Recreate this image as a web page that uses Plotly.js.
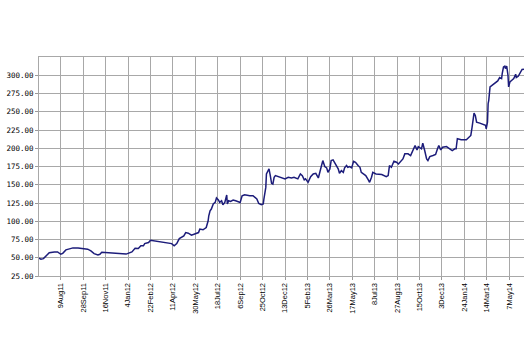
<!DOCTYPE html>
<html>
<head>
<meta charset="utf-8">
<script src="https://cdn.plot.ly/plotly-3.0.1.min.js"></script>
<style>html,body{margin:0;padding:0;background:#fff;}#chart{width:528px;height:360px;}</style>
</head>
<body>
<div id="chart"></div>
<script>
// trading-day index (0 = 9Aug11) and price values
const dayIndex = [-34,-31,-27,-24,-20,-18,-10,-5,0,3,8,13,19,27,34,42,47,52,58,61,64,71,81,91,102,
105,111,116,121,125,129,131,137,140,144,155,165,173,177,181,185,189,192,195,199,204,209,215,217,222,227,
230,231,233,235,238,241,243,246,248,251,253,256,259,260,262,265,269,273,277,280,283,287,295,300,306,309,313,316,317,320,321,324,325,327,329,331,333,335,339,345,350,355,360,364,
370,374,377,380,382,386,390,394,398,402,404,407,409,412,415,417,420,422,425,428,430,433,435,438,441,443,446,448,451,454,457,460,464,467,469,472,476,480,482,485,487,492,497,
501,508,511,513,516,520,524,527,531,534,537,542,546,550,553,556,558,563,565,568,571,573,576,581,585,588,590,593,596,602,607,611,615,617,619,625,633,637,640,642,645,647,649,654,659,663,664,666,667,668,670,673,676,680,682,685,688,689,691,693,694,696,698,699,701,704,707,710,711,714,718,720,723];
const price = [49.3,48,48.8,51.5,54.8,57,58,58,54.8,56,60.8,61.7,63.5,63.5,62.6,61.7,59.4,55.7,53.9,54.8,57.6,57,57,56,55,
56,58,63,62.6,66.3,66.3,69.4,70.8,74,73.5,72.6,70.8,69.4,66.3,69.4,76.3,79,80,84.5,83.7,81,82.3,84.5,89.2,88.3,91.4,
100.6,107.5,114.4,116.7,123.6,125.8,131.8,129.1,125.8,128.1,122.6,125.8,136,123.6,128.1,127.2,129.1,128.1,127.2,125.8,135,136.4,135,135,130.4,124.4,122.6,123.6,130.4,146.4,164.8,170.3,171.7,162.5,151.9,151,160.2,162.5,161.1,159.3,158,160.2,159.3,160.2,
158,164.8,162.5,156.6,158,153.3,161.1,164.8,165.7,159.3,164.8,176.3,183.1,174.9,173.1,167,171.7,183.1,184.1,179.4,177.6,171.7,165.7,169.4,167,173.1,176.3,173.9,174.9,173.1,182.2,180.8,176.3,173.9,167,164.8,162.5,156.6,153.3,160.2,167,164.8,164.8,
163.9,161.1,162.5,176.3,173.9,182.2,180.8,178.5,183.1,185.4,192.3,192.3,190,197.8,203.8,197.8,202.3,199.2,206.9,196.9,185.4,183.1,188.6,190,191.4,199.2,203.8,197.8,201.4,202.3,199.2,196.9,199.2,199.2,213,211.6,211.6,214.3,217.5,228.9,248.2,245,235.8,234.4,232.6,231.3,226.7,235.8,261,265.6,284,286.3,288.6,290.8,292.2,296.8,295.4,302.3,311.4,312.4,309.2,312.4,300,284,290.8,293.1,295.4,301.4,296.8,298.6,305.9,307.9,308.3];

const tickDays = [0,35,70,105,140,175,210,245,280,315,350,385,420,455,490,525,560,595,630,665,700];
const tickLabels = ["9Aug11","28Sep11","16Nov11","4Jan12","22Feb12","11Apr12","30May12","18Jul12","6Sep12","25Oct12","13Dec12","5Feb13","26Mar13","17May13","8Jul13","27Aug13","15Oct13","3Dec13","24Jan14","14Mar14","7May14"];
const yTicks = [25,50,75,100,125,150,175,200,225,250,275,300];

const trace = {
  x: dayIndex, y: price, type: 'scatter', mode: 'lines',
  line: {color: '#1c1c7a', width: 1.5},
  hoverinfo: 'skip'
};

const layout = {
  width: 528, height: 360,
  margin: {l: 39, r: 4, t: 57, b: 84},
  paper_bgcolor: '#ffffff', plot_bgcolor: '#ffffff',
  showlegend: false,
  xaxis: {
    range: [-34, 723],
    tickmode: 'array', tickvals: tickDays, ticktext: tickLabels,
    tickangle: -90,
    ticks: 'outside', ticklen: 3, tickcolor: '#999999',
    showgrid: true, gridcolor: '#a8a8a8', gridwidth: 1,
    showline: true, mirror: true, linecolor: '#a8a8a8', linewidth: 1,
    zeroline: false,
    tickfont: {family: 'Liberation Sans, Arial, sans-serif', size: 7.5, color: '#000'}
  },
  yaxis: {
    range: [25, 325],
    tickmode: 'array', tickvals: yTicks,
    tickformat: '.2f',
    ticks: 'outside', ticklen: 3, tickcolor: '#999999',
    showgrid: true, gridcolor: '#a8a8a8', gridwidth: 1,
    showline: true, linecolor: '#a8a8a8', linewidth: 1,
    zeroline: false,
    tickfont: {family: 'DejaVu Sans Mono, monospace', size: 7.5, color: '#000'}
  }
};

Plotly.newPlot('chart', [trace], layout, {displayModeBar: false, staticPlot: true});
</script>
</body>
</html>
